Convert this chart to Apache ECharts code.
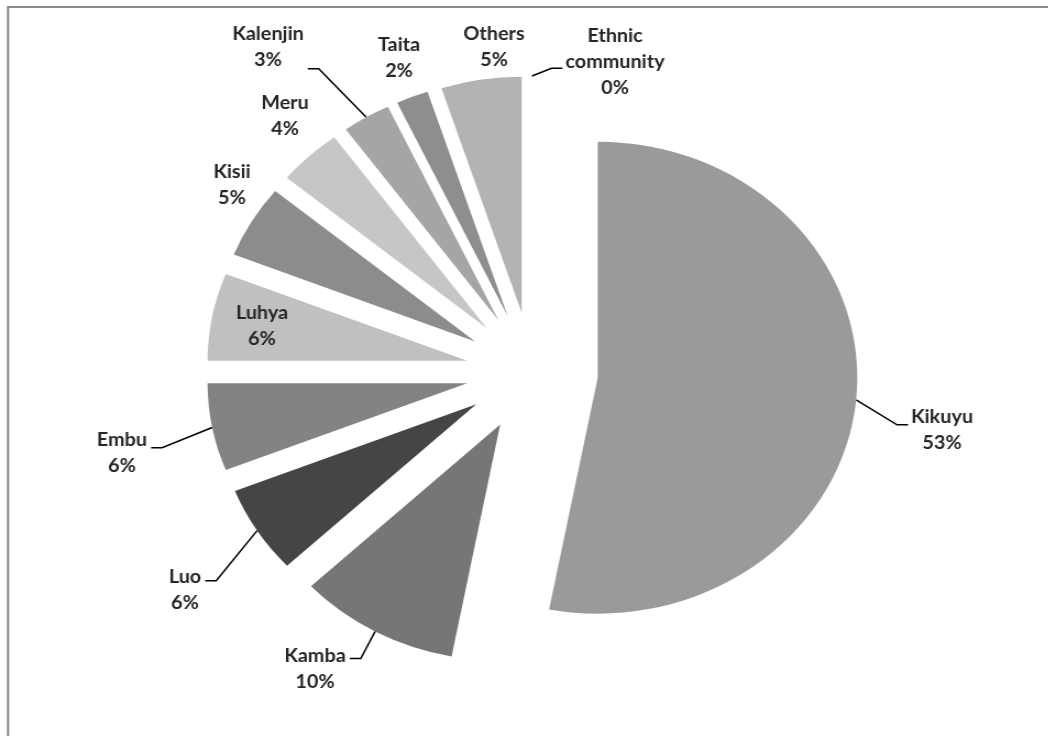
<!DOCTYPE html>
<html>
<head>
<meta charset="utf-8">
<script src="https://cdn.jsdelivr.net/npm/echarts@6/dist/echarts.min.js"></script>
<style>
html,body{margin:0;padding:0;background:#fff;overflow:hidden;width:1048px;height:736px;}
#chart{width:953px;height:736px;transform:scaleX(1.1);transform-origin:0 0;}
</style>
</head>
<body>
<div id="chart"></div>
<script>
// ---- data ----
const categories = ['Ethnic community','Kikuyu','Kamba','Luo','Embu','Luhya','Kisii','Meru','Kalenjin','Taita','Others'];
const shares = [0, 53, 10, 6, 6, 6, 5, 4, 3, 2, 5];

// ---- style / layout ----
const SX = 1.1;                 // horizontal stretch of the whole drawing
const CX = 532 / SX, CY = 372;  // pie centre (unscaled)
const R = 236, EXPLODE = 60;
const colors = ['#a0a0a0','#9a9a9a','#767676','#454545','#838383','#c0c0c0','#8c8c8c','#c6c6c6','#a5a5a5','#8e8e8e','#b3b3b3'];
const insideLbl = {'Luhya':true};
// label centres in screen coordinates
const labelSpots = {
  'Ethnic community':[615,62], 'Kikuyu':[942,430], 'Kamba':[315,669], 'Luo':[185,590],
  'Embu':[122,453], 'Luhya':[262,326], 'Kisii':[232,185], 'Meru':[285,116],
  'Kalenjin':[268,47], 'Taita':[399,58], 'Others':[494,47]
};
// leader lines: side of the label the line enters, and vertical fraction of the label box
const leaders = {
  'Kikuyu':['right',0.4], 'Ethnic community':['right',0.58], 'Kalenjin':['left',0.92],
  'Embu':['left',0.4], 'Luo':['left',0.32], 'Kamba':['left',0.3]
};

const total = shares.reduce((a, b) => a + b, 0);
let cum = 0;
const series = categories.map((name, k) => {
  const mid = (cum + shares[k] / 2) / total * 2 * Math.PI;
  cum += shares[k];
  const hasLine = !!leaders[name];
  return {
    type: 'pie',
    silent: true,
    center: [CX + EXPLODE * Math.sin(mid), CY - EXPLODE * Math.cos(mid)],
    radius: R,
    startAngle: 90,
    clockwise: true,
    avoidLabelOverlap: false,
    emphasis: {disabled: true},
    data: categories.map((n, i) => ({
      name: n,
      value: shares[i],
      itemStyle: {color: i === k ? colors[i] : 'rgba(0,0,0,0)'},
      label: {show: i === k, position: (i === k && insideLbl[n]) ? 'inside' : 'outside'},
      labelLine: {show: i === k && hasLine}
    })),
    label: {
      formatter: p => (p.name === 'Ethnic community' ? 'Ethnic\ncommunity' : p.name) + '\n' + p.value + '%',
      fontFamily: 'Lato',
      fontWeight: 'bold',
      fontSize: 18,
      lineHeight: 26,
      color: '#262626',
      align: 'center'
    },
    labelLine: {
      length: 14,
      length2: 10,
      lineStyle: {color: '#000', width: 1.5}
    },
    labelLayout: function (params) {
      const nm = categories[params.dataIndex];
      const spot = labelSpots[nm];
      if (!spot) return {};
      const x = spot[0] / SX, y = spot[1];
      const out = {x: x, y: y, align: 'center', verticalAlign: 'middle'};
      const lead = leaders[nm];
      if (lead && params.labelLinePoints) {
        const a = params.labelLinePoints[0];
        const w = params.labelRect.width, h = params.labelRect.height;
        const ey = y - h / 2 + h * lead[1];
        const ex = lead[0] === 'right' ? x - w / 2 - 3 / SX : x + w / 2 + 4 / SX;
        const mx = lead[0] === 'right' ? ex - 11 / SX : ex + 11 / SX;
        out.labelLinePoints = [[a[0], a[1]], [mx, ey], [ex, ey]];
      }
      return out;
    }
  };
});

const chart = echarts.init(document.getElementById('chart'), null, {renderer: 'canvas'});
chart.setOption({
  animation: false,
  backgroundColor: '#ffffff',
  graphic: [{
    type: 'rect',
    shape: {x: 8 / SX, y: 7, width: 1100, height: 800},
    style: {fill: 'none', stroke: '#8a8a8a', lineWidth: 2},
    silent: true
  }],
  series: series
});
</script>
</body>
</html>
